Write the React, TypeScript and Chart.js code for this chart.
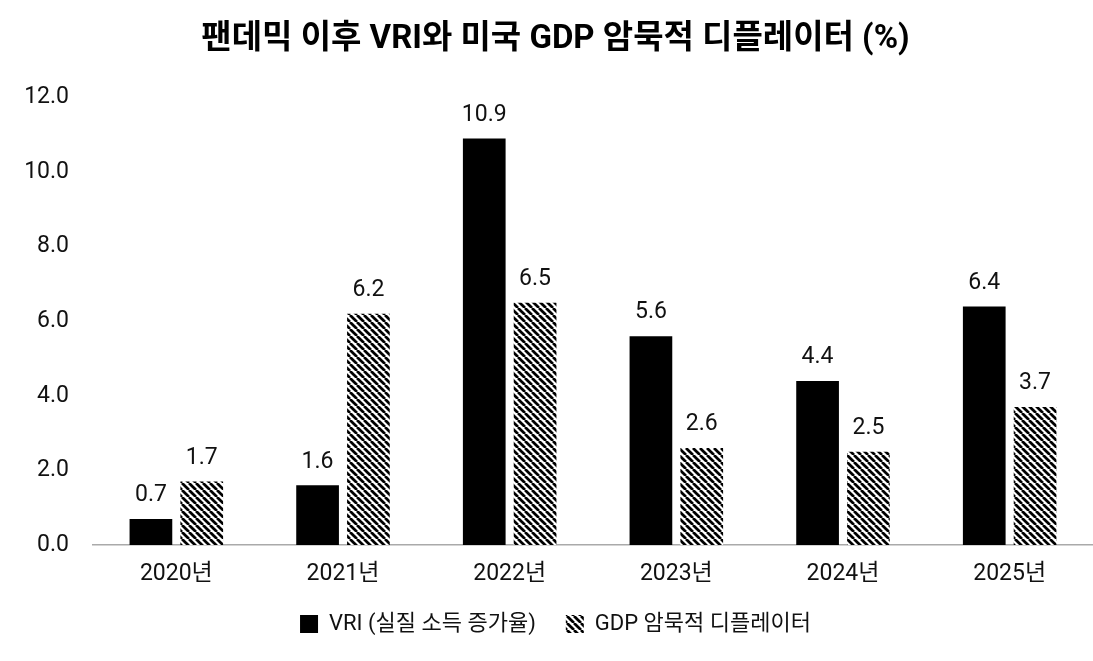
import { useEffect, useRef } from 'react'
import { Chart, registerables } from 'chart.js'

Chart.register(...registerables)

const years = ['2020년', '2021년', '2022년', '2023년', '2024년', '2025년']
const vri = [0.7, 1.6, 10.9, 5.6, 4.4, 6.4]
const deflator = [1.7, 6.2, 6.5, 2.6, 2.5, 3.7]

const FONT = "Roboto, 'Noto Sans CJK KR', sans-serif"

// diagonal "\" stripes for the deflator bars
const makeHatch = () => {
  const size = 7
  const c = document.createElement('canvas')
  c.width = size
  c.height = size
  const ctx = c.getContext('2d')!
  ctx.fillStyle = '#fff'
  ctx.fillRect(0, 0, size, size)
  ctx.strokeStyle = '#000'
  ctx.lineWidth = 2.7
  for (let k = -1; k <= 1; k++) {
    ctx.beginPath()
    ctx.moveTo(k * size, 0)
    ctx.lineTo(k * size + size, size)
    ctx.stroke()
  }
  return ctx.createPattern(c, 'repeat')!
}

const valueLabels = {
  id: 'valueLabels',
  afterDatasetsDraw(chart: any) {
    const ctx = chart.ctx
    ctx.save()
    ctx.font = `400 23px ${FONT}`
    ctx.fillStyle = '#111'
    ctx.textAlign = 'center'
    ctx.textBaseline = 'bottom'
    chart.data.datasets.forEach((ds: any, i: number) => {
      chart.getDatasetMeta(i).data.forEach((bar: any, j: number) => {
        ctx.fillText(ds.data[j].toFixed(1), bar.x, bar.y - 12)
      })
    })
    ctx.restore()
  },
}

const App = () => {
  const canvasRef = useRef<HTMLCanvasElement>(null)

  useEffect(() => {
    document.body.style.margin = '0'
    const hatch = makeHatch()
    const chart = new Chart(canvasRef.current!, {
      type: 'bar',
      data: {
        labels: years,
        datasets: [
          {
            label: 'VRI (실질 소득 증가율)',
            data: vri,
            backgroundColor: '#000',
            categoryPercentage: 0.61,
            barPercentage: 0.84,
          },
          {
            label: 'GDP 암묵적 디플레이터',
            data: deflator,
            backgroundColor: hatch,
            categoryPercentage: 0.61,
            barPercentage: 0.84,
          },
        ],
      },
      options: {
        animation: false,
        responsive: true,
        maintainAspectRatio: false,
        layout: { padding: { top: 0, right: 0, bottom: 16, left: 18 } },
        scales: {
          x: {
            afterFit: (scale: any) => {
              scale.height = 38
            },
            grid: { display: false, drawTicks: false },
            border: { color: '#aaa', width: 1.5 },
            ticks: { color: '#111', font: { family: FONT, size: 23 }, padding: 15 },
          },
          y: {
            min: 0,
            max: 12,
            afterFit: (scale: any) => {
              scale.width = 75
            },
            grid: { display: false, drawTicks: false },
            border: { display: false },
            ticks: {
              stepSize: 2,
              color: '#111',
              font: { family: FONT, size: 23 },
              padding: 24,
              callback: (v: any) => Number(v).toFixed(1),
            },
          },
        },
        plugins: {
          title: {
            display: true,
            text: '팬데믹 이후 VRI와 미국 GDP 암묵적 디플레이터 (%)',
            color: '#000',
            font: { family: FONT, size: 33, weight: 'bold' },
            padding: { top: 20, bottom: 38 },
          },
          legend: {
            position: 'bottom',
            labels: {
              color: '#111',
              font: { family: FONT, size: 22 },
              boxWidth: 18,
              boxHeight: 18,
              padding: 30,
            },
          },
          tooltip: { enabled: false },
        },
      },
      plugins: [valueLabels],
    })

    return () => chart.destroy()
  }, [])

  return (
    <div style={{ width: 1093, height: 661, position: 'relative' }}>
      <canvas ref={canvasRef}></canvas>
    </div>
  )
}

export default App
